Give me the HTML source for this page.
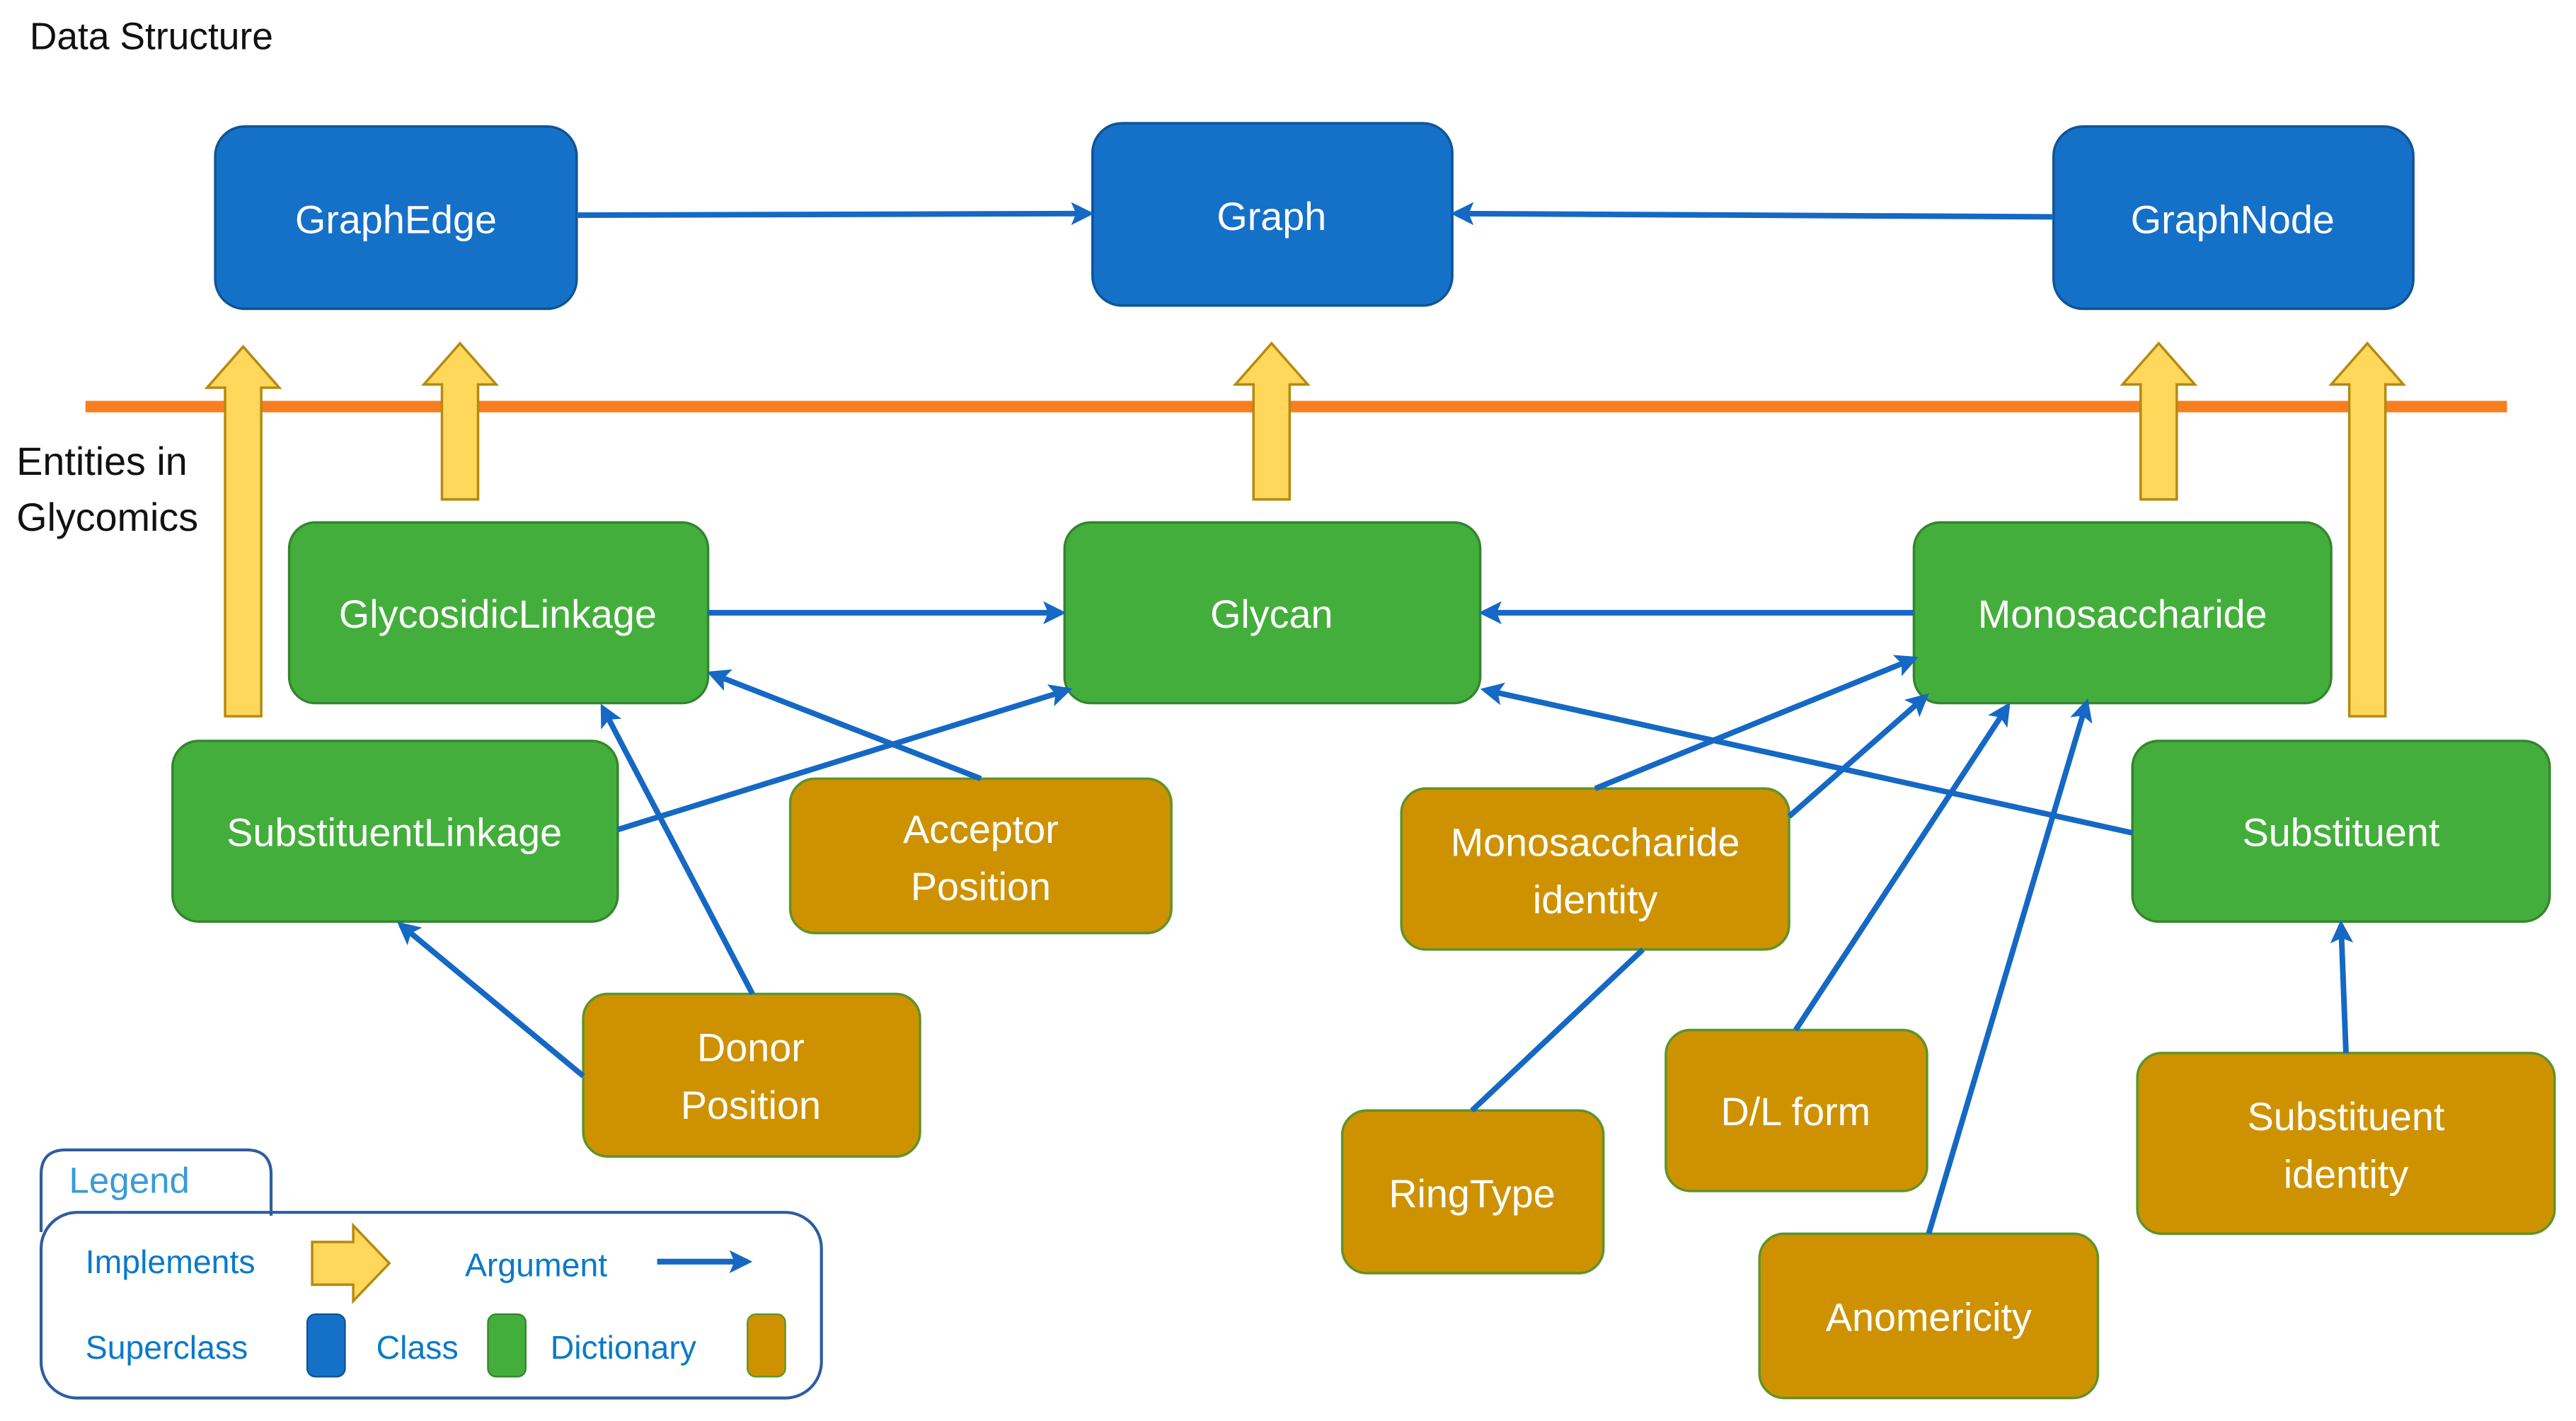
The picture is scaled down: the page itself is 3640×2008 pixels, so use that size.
<!DOCTYPE html>
<html><head><meta charset="utf-8"><style>
html,body{margin:0;padding:0;background:#fff;}
svg{display:block;}
text{font-family:"Liberation Sans",sans-serif;}
</style></head><body>
<svg width="3640" height="2008" viewBox="0 0 1568 865" xmlns="http://www.w3.org/2000/svg">
<defs>
<marker id="ah" markerWidth="14" markerHeight="14" refX="11" refY="7" orient="auto" markerUnits="userSpaceOnUse">
<path d="M0,0 L14,7 L0,14 L3,7 Z" fill="#1568C4"/>
</marker>
</defs>
<rect width="1568" height="865" fill="#fff"/>
<text x="18" y="30" font-size="23" fill="#111">Data Structure</text>
<text x="10" y="289" font-size="24" fill="#111">Entities in</text>
<text x="10" y="323" font-size="24" fill="#111">Glycomics</text>

<rect x="52" y="244" width="1474" height="7" fill="#F97E1F"/>

<g fill="#FFD75A" stroke="#B58A10" stroke-width="1.5">
<path d="M137,436 L137,236 L126,236 L148,211 L170,236 L159,236 L159,436 Z"/>
<path d="M269,304 L269,234 L258,234 L280,209 L302,234 L291,234 L291,304 Z"/>
<path d="M763,304 L763,234 L752,234 L774,209 L796,234 L785,234 L785,304 Z"/>
<path d="M1303,304 L1303,234 L1292,234 L1314,209 L1336,234 L1325,234 L1325,304 Z"/>
<path d="M1430,436 L1430,234 L1419,234 L1441,209 L1463,234 L1452,234 L1452,436 Z"/>
</g>

<g fill="#1570C8" stroke="#0F5496" stroke-width="1.5">
<rect x="131" y="77" width="220" height="111" rx="18"/>
<rect x="665" y="75" width="219" height="111" rx="18"/>
<rect x="1250" y="77" width="219" height="111" rx="18"/>
</g>
<g fill="#44AE3C" stroke="#34852E" stroke-width="1.5">
<rect x="176" y="318" width="255" height="110" rx="16"/>
<rect x="648" y="318" width="253" height="110" rx="16"/>
<rect x="1165" y="318" width="254" height="110" rx="16"/>
<rect x="105" y="451" width="271" height="110" rx="16"/>
<rect x="1298" y="451" width="254" height="110" rx="16"/>
</g>
<g fill="#CE9200" stroke="#5E9428" stroke-width="1.5">
<rect x="481" y="474" width="232" height="94" rx="15"/>
<rect x="355" y="605" width="205" height="99" rx="15"/>
<rect x="853" y="480" width="236" height="98" rx="15"/>
<rect x="817" y="676" width="159" height="99" rx="15"/>
<rect x="1014" y="627" width="159" height="98" rx="15"/>
<rect x="1071" y="751" width="206" height="100" rx="15"/>
<rect x="1301" y="641" width="254" height="110" rx="15"/>
</g>

<g stroke="#1568C4" stroke-width="3.4" fill="none" marker-end="url(#ah)">
<line x1="351" y1="131" x2="663" y2="130"/>
<line x1="1250" y1="132" x2="886" y2="130"/>
<line x1="431" y1="373" x2="646" y2="373"/>
<line x1="1165" y1="373" x2="903" y2="373"/>
<line x1="376" y1="505" x2="650" y2="420"/>
<line x1="597" y1="474" x2="433" y2="410"/>
<line x1="458" y1="605" x2="367" y2="431"/>
<line x1="355" y1="655" x2="244" y2="563"/>
<line x1="971" y1="480" x2="1165" y2="401"/>
<line x1="1089" y1="497" x2="1172" y2="424"/>
<line x1="1093" y1="627" x2="1222" y2="430"/>
<line x1="1174" y1="751" x2="1270" y2="428"/>
<line x1="1298" y1="507" x2="904" y2="420"/>
<line x1="1428" y1="641" x2="1425" y2="563"/>
</g>
<line x1="896" y1="676" x2="1000" y2="578" stroke="#1568C4" stroke-width="3.4"/>

<g fill="#fff" font-size="24" text-anchor="middle">
<text x="241" y="142">GraphEdge</text>
<text x="774" y="140">Graph</text>
<text x="1359" y="142">GraphNode</text>
<text x="303" y="382">GlycosidicLinkage</text>
<text x="774" y="382">Glycan</text>
<text x="1292" y="382">Monosaccharide</text>
<text x="240" y="515">SubstituentLinkage</text>
<text x="1425" y="515">Substituent</text>
<text x="597" y="513">Acceptor</text>
<text x="597" y="548">Position</text>
<text x="457" y="646">Donor</text>
<text x="457" y="681">Position</text>
<text x="971" y="521">Monosaccharide</text>
<text x="971" y="556">identity</text>
<text x="896" y="735">RingType</text>
<text x="1093" y="685">D/L form</text>
<text x="1174" y="810">Anomericity</text>
<text x="1428" y="688">Substituent</text>
<text x="1428" y="723">identity</text>
</g>

<path d="M25,750 L25,715 Q25,700 40,700 L150,700 Q165,700 165,715 L165,740" fill="none" stroke="#2E5D9E" stroke-width="1.8"/>
<rect x="25" y="738" width="475" height="113" rx="22" fill="none" stroke="#2E5D9E" stroke-width="1.8"/>
<text x="42" y="726" font-size="22" fill="#3A9AD9">Legend</text>
<g fill="#0A7AC8" font-size="20">
<text x="52" y="775">Implements</text>
<text x="283" y="777">Argument</text>
<text x="52" y="827">Superclass</text>
<text x="229" y="827">Class</text>
<text x="335" y="827">Dictionary</text>
</g>
<path d="M190,756 L215,756 L215,746 L237,769 L215,792 L215,782 L190,782 Z" fill="#FFD75A" stroke="#B58A10" stroke-width="1.5"/>
<line x1="400" y1="768" x2="455" y2="768" stroke="#1568C4" stroke-width="3.5" marker-end="url(#ah)"/>
<rect x="187" y="800" width="23" height="38" rx="5" fill="#1570C8" stroke="#0F5496"/>
<rect x="297" y="800" width="23" height="38" rx="5" fill="#44AE3C" stroke="#34852E"/>
<rect x="455" y="800" width="23" height="38" rx="5" fill="#CE9200" stroke="#5E9428"/>
</svg>
</body></html>
